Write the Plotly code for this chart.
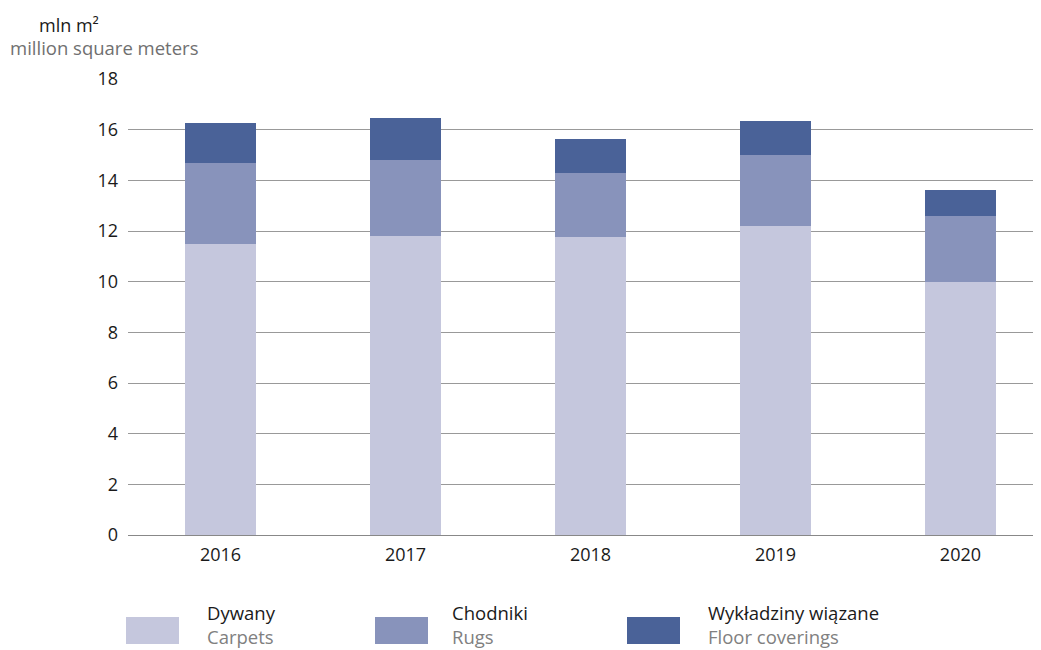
import plotly.graph_objects as go

years = ["2016", "2017", "2018", "2019", "2020"]
carpets = [11.5, 11.8, 11.75, 12.2, 10.0]
rugs = [3.2, 3.0, 2.55, 2.8, 2.6]
floor_coverings = [1.55, 1.65, 1.35, 1.35, 1.0]

series = [
    ("Dywany", "Carpets", carpets, "#C5C7DD"),
    ("Chodniki", "Rugs", rugs, "#8893BB"),
    ("Wykładziny wiązane", "Floor coverings", floor_coverings, "#4A6298"),
]

FONT = "Open Sans, Noto Sans, sans-serif"

fig = go.Figure()
for pl, en, vals, color in series:
    fig.add_trace(go.Bar(x=years, y=vals, name=en, marker=dict(color=color, line=dict(width=0)),
                         showlegend=False))

# page body has an 8px margin, so the figure is sized to fit the remaining window
fig.update_layout(
    barmode="stack",
    bargap=0.616,
    width=1033,
    height=642,
    margin=dict(l=120, r=6, t=71, b=115),
    plot_bgcolor="white",
    paper_bgcolor="white",
    font=dict(family=FONT, size=18, color="#1a1a1a"),
)
fig.update_yaxes(range=[0, 18], dtick=2, showgrid=True, gridcolor="#999999", gridwidth=1,
                 zeroline=True, zerolinecolor="#888888", zerolinewidth=1,
                 ticklabelstandoff=9, fixedrange=True)
# last category band runs past the gridlines' right end in the original
fig.update_xaxes(showgrid=False, showline=False, ticklabelstandoff=7, range=[-0.5, 4.403])

# helpers: screen pixel -> paper coords (plot area spans x 128..1035, y 79..535 on screen)
def px_x(px):
    return (px - 128) / 907
def px_y(py):
    return (535 - py) / 456

fig.add_annotation(text="mln m²", xref="paper", yref="paper", x=px_x(69), y=px_y(25),
                   xanchor="center", yanchor="middle", showarrow=False,
                   font=dict(size=18, color="#1a1a1a", family=FONT))
fig.add_annotation(text="million square meters", xref="paper", yref="paper", x=px_x(8), y=px_y(47),
                   xanchor="left", yanchor="middle", showarrow=False,
                   font=dict(size=18.5, color="#707070", family=FONT))

swatch_x = [126, 375, 627]
text_x = [207, 452, 708]
for (pl, en, vals, color), sx, tx in zip(series, swatch_x, text_x):
    fig.add_shape(type="rect", xref="paper", yref="paper",
                  x0=px_x(sx), x1=px_x(sx + 53), y0=px_y(644), y1=px_y(617),
                  fillcolor=color, line=dict(width=0))
    fig.add_annotation(text=f"{pl}<br><span style='color:#808080'>{en}</span>",
                       xref="paper", yref="paper", x=px_x(tx - 2), y=px_y(624),
                       xanchor="left", yanchor="middle", align="left", showarrow=False,
                       font=dict(size=18.5, color="#1a1a1a", family=FONT))

fig.write_html("out.html")
